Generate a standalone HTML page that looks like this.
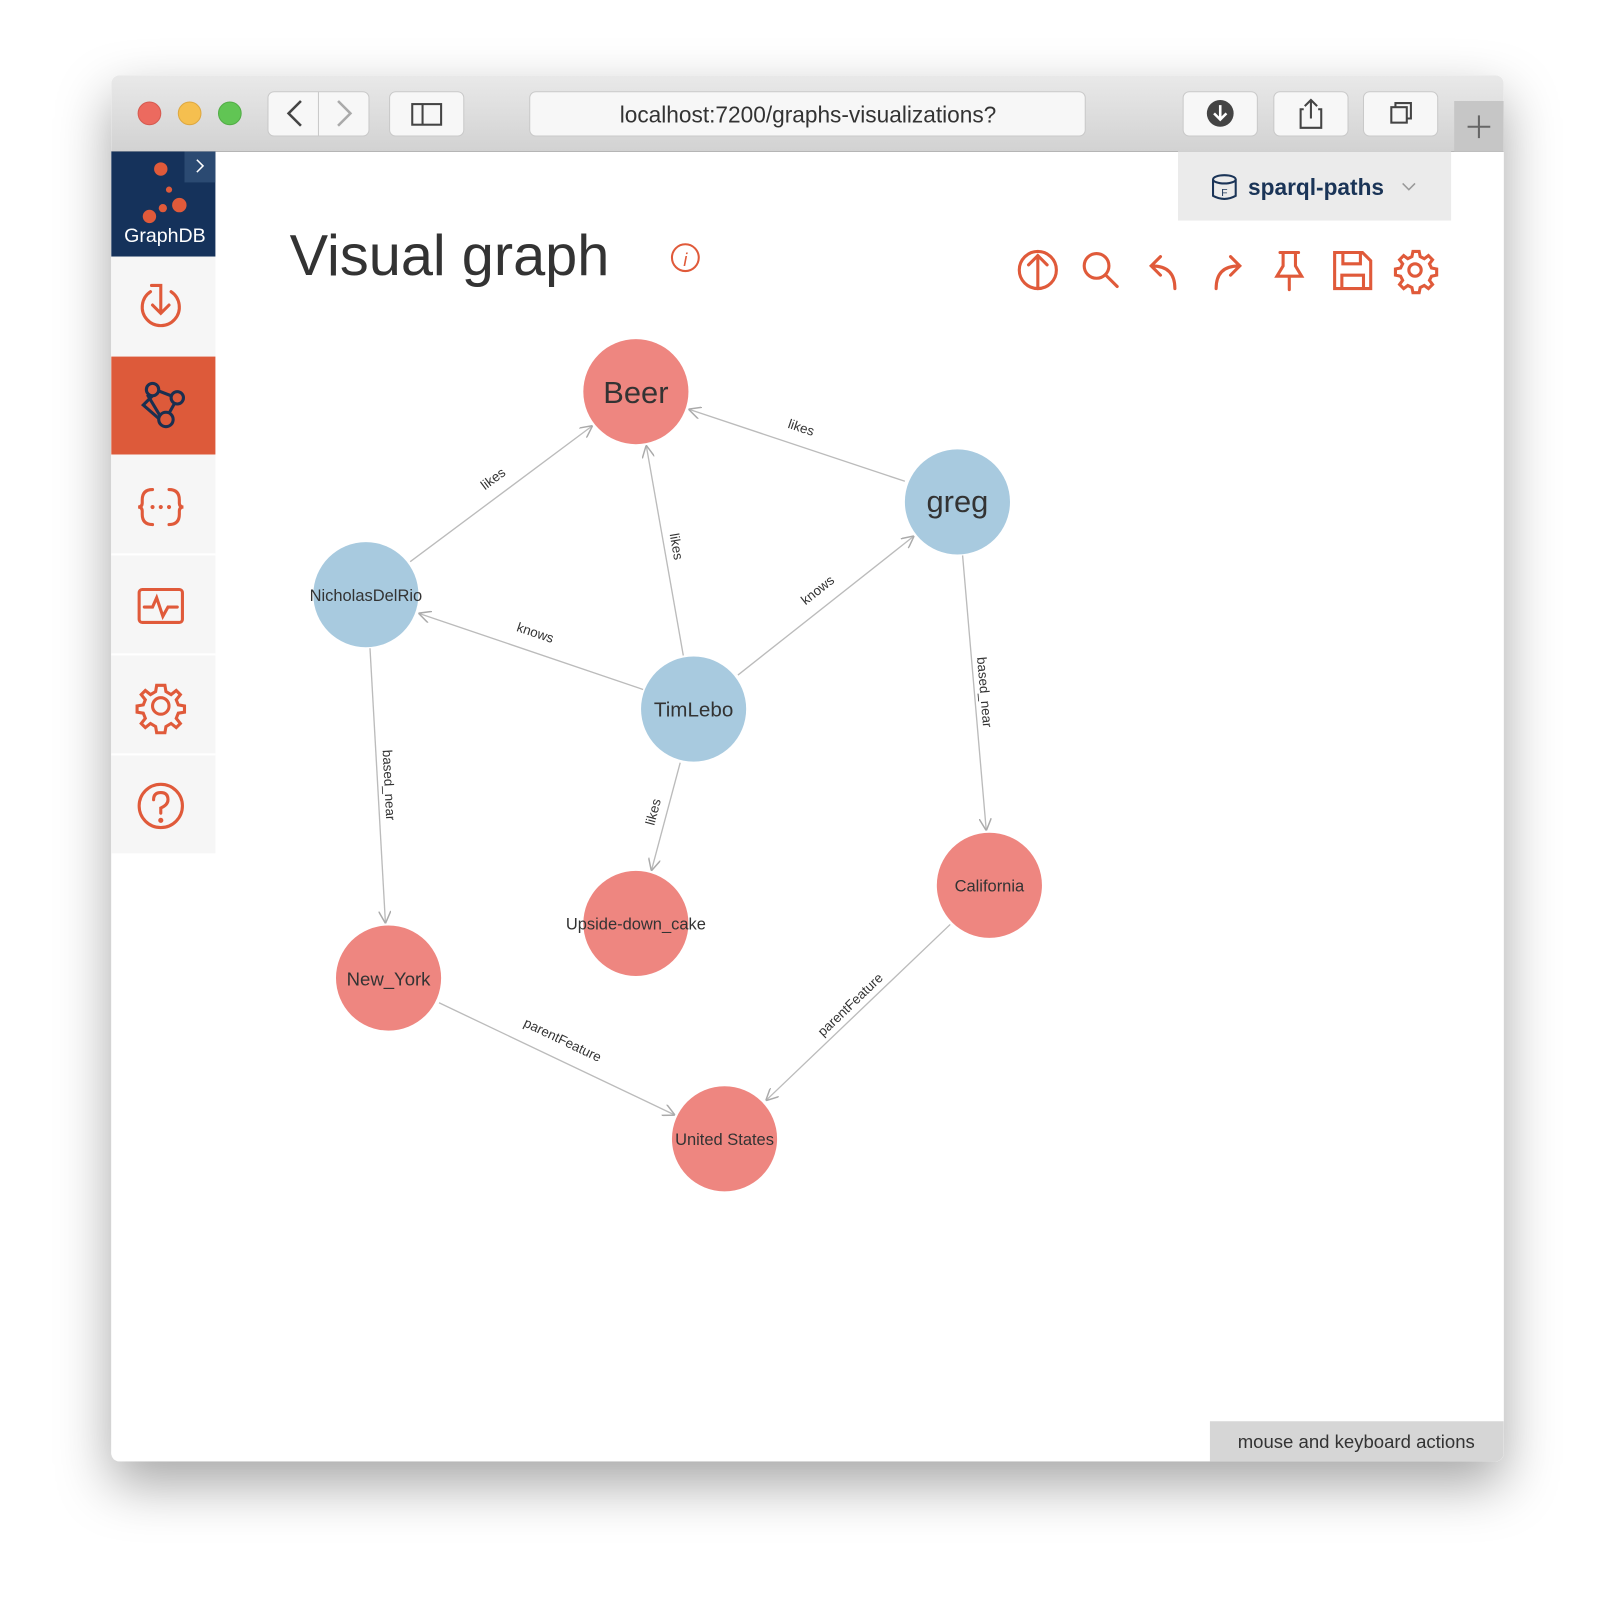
<!DOCTYPE html>
<html><head><meta charset="utf-8"><style>
html,body{margin:0;padding:0;background:#fff;width:1616px;height:1610px;overflow:hidden}
svg{display:block}
text{font-family:"Liberation Sans","DejaVu Sans",sans-serif}
</style></head><body>
<svg width="1616" height="1610" viewBox="0 0 1568 1562.2" xmlns="http://www.w3.org/2000/svg">
<defs>
<filter id="sh" x="-10%" y="-10%" width="120%" height="125%"><feDropShadow dx="0" dy="22" stdDeviation="26" flood-color="#000" flood-opacity="0.35"/></filter>
<linearGradient id="tb" x1="0" y1="0" x2="0" y2="1"><stop offset="0" stop-color="#e9e9e9"/><stop offset="1" stop-color="#d2d2d2"/></linearGradient>
<marker id="ar" viewBox="0 0 10 10" refX="10" refY="5" markerWidth="12" markerHeight="12" markerUnits="userSpaceOnUse" orient="auto"><path d="M0,0 L10,5 L0,10" fill="none" stroke="#aaa" stroke-width="1.2"/></marker>
</defs>
<rect x="108" y="73" width="1351" height="1345" rx="8" fill="#fff" filter="url(#sh)"/>
<path d="M116,73 H1451 a8,8 0 0 1 8,8 V147 H108 V81 a8,8 0 0 1 8,-8z" fill="url(#tb)"/>
<line x1="108" y1="147" x2="1459" y2="147" stroke="#b5b5b5"/>
<circle cx="145" cy="110" r="11" fill="#ec6a5f" stroke="#d65a50"/>
<circle cx="184" cy="110" r="11" fill="#f5bf4f" stroke="#dea840"/>
<circle cx="223" cy="110" r="11" fill="#61c554" stroke="#52ad46"/>
<rect x="260" y="89" width="98" height="43" rx="6" fill="#f7f7f7" stroke="#c9c9c9"/>
<line x1="309" y1="89" x2="309" y2="132" stroke="#c9c9c9"/>
<path d="M292,98 L280,110 L292,122" fill="none" stroke="#444" stroke-width="2.5"/>
<path d="M328,98 L340,110 L328,122" fill="none" stroke="#aaa" stroke-width="2.5"/>
<rect x="378" y="89" width="72" height="43" rx="6" fill="#f7f7f7" stroke="#c9c9c9"/>
<rect x="400" y="101" width="28" height="20" fill="none" stroke="#444" stroke-width="2"/><line x1="410" y1="101" x2="410" y2="121" stroke="#444" stroke-width="2"/>
<rect x="514" y="89" width="539" height="43" rx="6" fill="#f7f7f7" stroke="#c9c9c9"/>
<text x="784" y="119" font-size="22" fill="#333" text-anchor="middle">localhost:7200/graphs-visualizations?</text>
<rect x="1148" y="89" width="72" height="43" rx="6" fill="#f7f7f7" stroke="#c9c9c9"/>
<circle cx="1184" cy="110" r="13" fill="#444"/><path d="M1184,102 V116 M1178,110 L1184,116 L1190,110" stroke="#fff" stroke-width="2.5" fill="none"/>
<rect x="1236" y="89" width="72" height="43" rx="6" fill="#f7f7f7" stroke="#c9c9c9"/>
<path d="M1265,106 H1262 V124 H1282 V106 H1279 M1272,97 V115 M1266,103 L1272,97 L1278,103" fill="none" stroke="#444" stroke-width="2"/>
<rect x="1323" y="89" width="72" height="43" rx="6" fill="#f7f7f7" stroke="#c9c9c9"/>
<rect x="1350" y="104" width="15" height="15" fill="none" stroke="#444" stroke-width="2"/><path d="M1354,104 V100 H1369 V115 H1365" fill="none" stroke="#444" stroke-width="2"/>
<path d="M1411,98 H1459 V147 H1411z" fill="#c6c6c6"/>
<path d="M1435,112 V134 M1424,123 H1446" stroke="#666" stroke-width="2"/>
<!-- sidebar -->
<rect x="108" y="147" width="101" height="102" fill="#15325b"/>
<rect x="179" y="147" width="30" height="30" fill="#2b4a72"/>
<path d="M191,155 L197,161 L191,167" fill="none" stroke="#fff" stroke-width="1.5"/>
<circle cx="156" cy="164" r="6.5" fill="#e05a3a"/><circle cx="164" cy="184" r="3" fill="#e05a3a"/><circle cx="174" cy="199" r="7" fill="#e05a3a"/><circle cx="158" cy="202" r="4" fill="#e05a3a"/><circle cx="145" cy="210" r="6.5" fill="#e05a3a"/>
<text x="160" y="235" font-size="19" fill="#fff" text-anchor="middle">GraphDB</text>
<rect x="108" y="249" width="101" height="579" fill="#f6f6f6"/>
<rect x="108" y="346" width="101" height="95" fill="#dd5a3a"/>
<g stroke="#fff" stroke-width="2"><line x1="108" y1="538" x2="209" y2="538"/><line x1="108" y1="635" x2="209" y2="635"/><line x1="108" y1="732" x2="209" y2="732"/></g>
<g fill="none" stroke="#e05a3a" stroke-width="3" stroke-linecap="round">
<path d="M146,283 A18,18 0 1 0 166,283"/><path d="M147,277 H156 V304 M148,296 L156,304 L164,296"/>
<path d="M148,475 Q138,475 138,485 V488 Q138,492 134,492 Q138,492 138,496 V499 Q138,509 148,509"/><path d="M164,475 Q174,475 174,485 V488 Q174,492 178,492 Q174,492 174,496 V499 Q174,509 164,509"/>
<rect x="135" y="572" width="42" height="32" rx="3"/><path d="M140,589 H148 L152,580 L158,598 L163,589 H172"/>
<circle cx="156" cy="685" r="8"/><path d="M156,665 l4,0 1,6 5,3 5,-4 4,4 -4,5 2,5 6,1 0,6 -6,1 -2,5 4,5 -4,4 -5,-4 -5,3 -1,6 -8,0 -1,-6 -5,-3 -5,4 -4,-4 4,-5 -2,-5 -6,-1 0,-6 6,-1 2,-5 -4,-5 4,-4 5,4 5,-3 1,-6z"/>
<circle cx="156" cy="782" r="21"/><path d="M149,776 Q149,769 156,769 Q163,769 163,776 Q163,781 156,784 V789"/><circle cx="156" cy="796" r="1" fill="#e05a3a"/>
</g>
<g fill="#e05a3a"><circle cx="148" cy="492" r="2"/><circle cx="156" cy="492" r="2"/><circle cx="164" cy="492" r="2"/></g>
<g fill="none" stroke="#1a2f50" stroke-width="3"><circle cx="148" cy="378" r="6"/><circle cx="172" cy="386" r="6"/><circle cx="161" cy="407" r="7"/><path d="M143,383 L155,403 M153,379 L166,384 M169,392 L164,401 M148,384 L139,393 L154,406"/></g>
<!-- repo -->
<rect x="1143" y="147" width="265" height="67" fill="#ebebeb"/>
<g fill="none" stroke="#1a3457" stroke-width="2"><ellipse cx="1188" cy="174" rx="11" ry="4"/><path d="M1177,174 V190 Q1188,196 1199,190 V174"/></g>
<text x="1188" y="190" font-size="10" fill="#1a3457" text-anchor="middle">F</text>
<text x="1211" y="189" font-size="22" fill="#1a3457" font-weight="bold">sparql-paths</text>
<path d="M1361,178 L1367,184 L1373,178" fill="none" stroke="#999" stroke-width="1.5"/>
<text x="281" y="267" font-size="56" fill="#333">Visual graph</text>
<circle cx="665" cy="250" r="13" fill="none" stroke="#e05a3a" stroke-width="2"/><text x="665" y="258" font-size="18" font-style="italic" fill="#e05a3a" text-anchor="middle">i</text>
<!-- toolbar -->
<g fill="none" stroke="#e05a3a" stroke-width="3" stroke-linecap="round">
<circle cx="1007" cy="262" r="18"/><path d="M1007,280 V248 M998,257 L1007,248 L1016,257"/>
<circle cx="1064" cy="258" r="12"/><path d="M1073,267 L1084,278"/>
<path d="M1140,280 Q1140,258 1118,258 M1126,249 L1117,258 L1126,267"/>
<path d="M1180,280 Q1180,258 1202,258 M1194,249 L1203,258 L1194,267"/>
<path d="M1242,245 H1260 M1245,245 V258 L1239,268 H1263 L1257,258 V245 M1251,268 V281"/>
<path d="M1295,245 H1322 L1330,253 V280 H1295z M1303,245 V256 H1320 V245 M1302,280 V267 H1323 V280"/>
<circle cx="1373" cy="262" r="6"/><path d="M1373,244 l4,0 1,5 4,2 4,-3 4,4 -3,4 2,4 5,1 0,6 -5,1 -2,4 3,4 -4,4 -4,-3 -4,2 -1,5 -6,0 -1,-5 -4,-2 -4,3 -4,-4 3,-4 -2,-4 -5,-1 0,-6 5,-1 2,-4 -3,-4 4,-4 4,3 4,-2 1,-5z"/>
</g>
<!-- edges -->
<g stroke="#bbb" stroke-width="1.3" fill="none" marker-end="url(#ar)">
<line x1="398" y1="545" x2="575" y2="413"/>
<line x1="878" y1="467" x2="668" y2="397"/>
<line x1="663" y1="636" x2="627" y2="432"/>
<line x1="716" y1="655" x2="887" y2="520"/>
<line x1="624" y1="669" x2="406" y2="595"/>
<line x1="660" y1="740" x2="632" y2="845"/>
<line x1="359" y1="629" x2="374" y2="896"/>
<line x1="934" y1="539" x2="957" y2="806"/>
<line x1="426" y1="973" x2="655" y2="1082"/>
<line x1="922" y1="897" x2="743" y2="1068"/>
</g>
<g font-size="13" fill="#333" text-anchor="middle">
<text transform="translate(481,468) rotate(-36.7)">likes</text>
<text transform="translate(776,419) rotate(18.4)">likes</text>
<text transform="translate(652,531) rotate(80)">likes</text>
<text transform="translate(796,576) rotate(-38.3)">knows</text>
<text transform="translate(518,618) rotate(18.7)">knows</text>
<text transform="translate(638,789) rotate(-75)">likes</text>
<text transform="translate(373,762) rotate(87)">based_near</text>
<text transform="translate(951,672) rotate(85)">based_near</text>
<text transform="translate(544,1013) rotate(25.5)">parentFeature</text>
<text transform="translate(828,978) rotate(-43.7)">parentFeature</text>
</g>
<!-- nodes -->
<g>
<circle cx="617" cy="380" r="51" fill="#ee8680"/>
<circle cx="929" cy="487" r="51" fill="#a8cadf"/>
<circle cx="355" cy="577" r="51" fill="#a8cadf"/>
<circle cx="673" cy="688" r="51" fill="#a8cadf"/>
<circle cx="617" cy="896" r="51" fill="#ee8680"/>
<circle cx="960" cy="859" r="51" fill="#ee8680"/>
<circle cx="377" cy="949" r="51" fill="#ee8680"/>
<circle cx="703" cy="1105" r="51" fill="#ee8680"/>
</g>
<g fill="#333" text-anchor="middle">
<text x="617" y="391" font-size="30">Beer</text>
<text x="929" y="497" font-size="30">greg</text>
<text x="355" y="583" font-size="16">NicholasDelRio</text>
<text x="673" y="695" font-size="20">TimLebo</text>
<text x="617" y="902" font-size="16">Upside-down_cake</text>
<text x="960" y="865" font-size="16">California</text>
<text x="377" y="956" font-size="18">New_York</text>
<text x="703" y="1111" font-size="16">United States</text>
</g>
<path d="M1174,1379 H1459 V1410 a8,8 0 0 1 -8,8 H1174z" fill="#d6d6d6"/>
<text x="1316" y="1405" font-size="18" fill="#333" text-anchor="middle">mouse and keyboard actions</text>
</svg>
</body></html>
